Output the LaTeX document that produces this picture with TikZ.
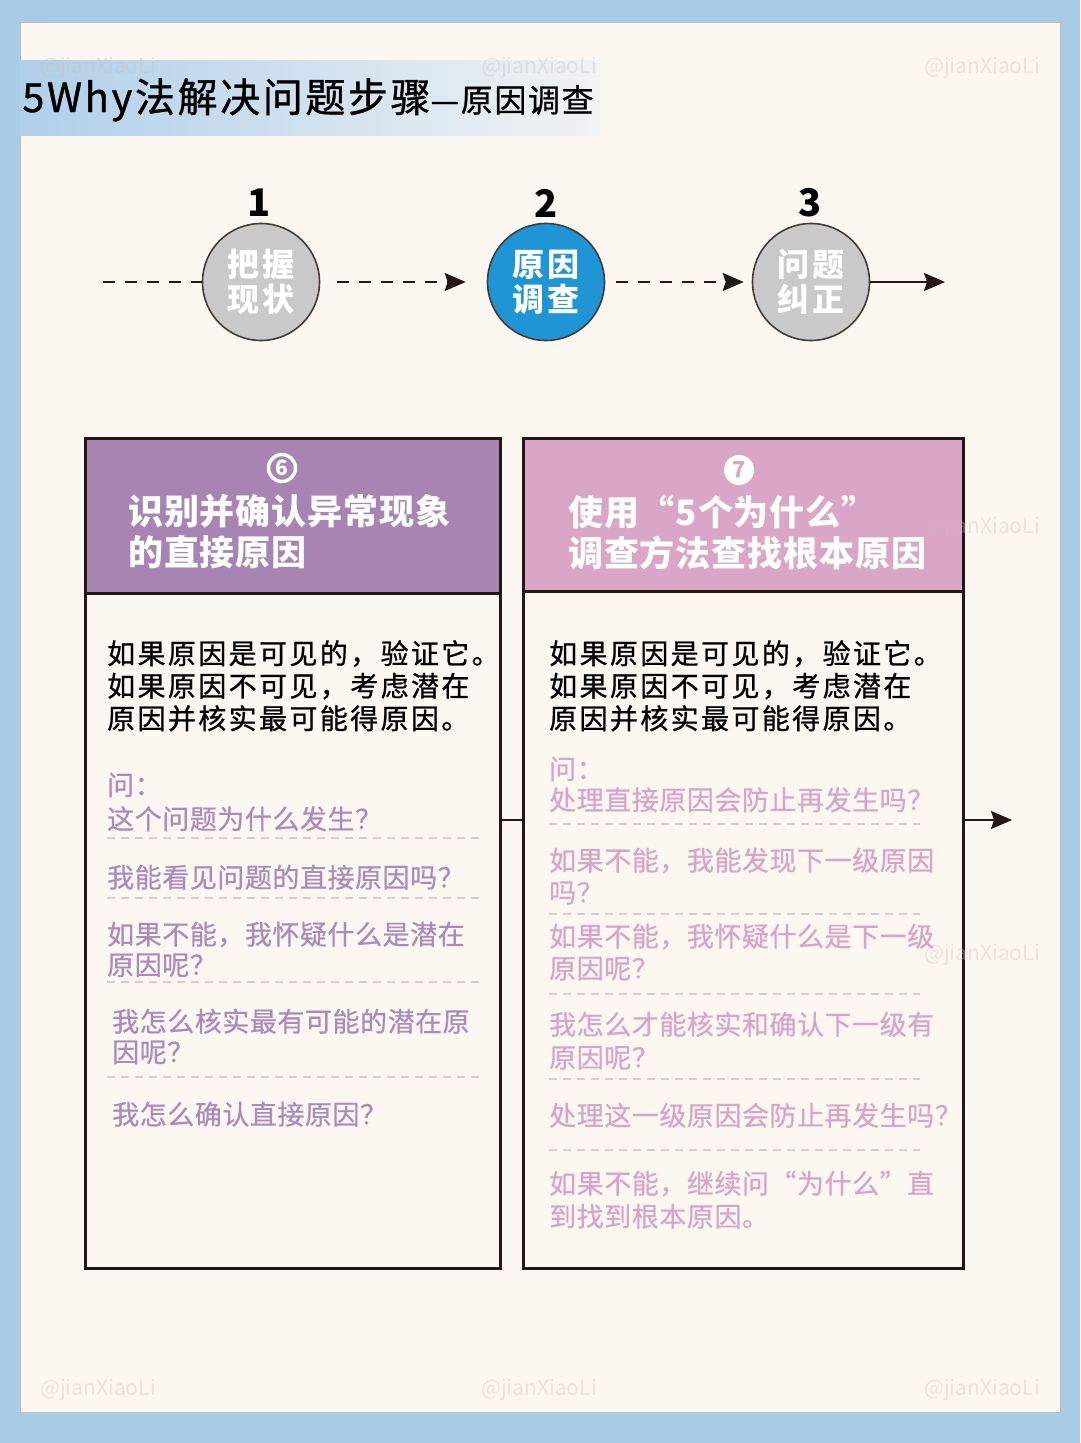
\documentclass[tikz,border=0pt]{standalone}
\usepackage{fontspec}
\setmainfont{Noto Sans CJK SC}
\usetikzlibrary{arrows.meta}
\definecolor{bgblue}{HTML}{A8CBE6}
\definecolor{cream}{HTML}{FDF7F1}
\definecolor{creamedge}{HTML}{BDBDBD}
\definecolor{titleL}{HTML}{B0CFE9}
\definecolor{titleR}{HTML}{F1F3F4}
\definecolor{purplehead}{HTML}{A884B3}
\definecolor{pinkhead}{HTML}{D9A6C6}
\definecolor{purpletext}{HTML}{A98BBE}
\definecolor{pinktext}{HTML}{D8A5C8}
\definecolor{stepblue}{HTML}{1F95D5}
\definecolor{stepgray}{HTML}{C9C9C9}
\definecolor{inkdark}{HTML}{231815}
\definecolor{sepgray}{HTML}{D6CECC}
\definecolor{wmark}{HTML}{C8BEB8}
\begin{document}
\begin{tikzpicture}[x=1pt,y=-1pt,
  stepcirc/.style={circle, draw=inkdark!85, line width=1.6pt, minimum size=117pt, inner sep=0pt,
    text=white, align=center, font=\fontsize{32}{35}\selectfont\bfseries\addfontfeature{LetterSpace=8}},
  stepnum/.style={inner sep=0pt, font=\fontsize{38}{40}\selectfont\bfseries},
  tline/.style={line width=2.2pt, draw=inkdark, dash pattern=on 12pt off 10pt},
  solidline/.style={line width=2.2pt, draw=inkdark},
  tiptri/.tip={Stealth[length=21pt,width=18pt,inset=3pt]},
  panelbox/.style={draw=inkdark, line width=2.5pt, anchor=north west, inner sep=0pt},
  headtext/.style={anchor=north west, inner sep=0pt, align=left, text=white,
    font=\fontsize{35}{41}\selectfont\bfseries\addfontfeature{LetterSpace=2.5}},
  bodytext/.style={anchor=north west, inner sep=0pt, align=left, text=black,
    font=\fontsize{28}{32.5}\selectfont\addfontfeature{LetterSpace=8.5,FakeBold=0.8}},
  qfont/.style={font=\fontsize{27}{#1}\selectfont\addfontfeature{LetterSpace=2,FakeBold=0.6}},
  qtext/.style={anchor=north west, inner sep=0pt, align=left, qfont=32},
  sepline/.style={draw=sepgray, line width=1.2pt, dash pattern=on 8pt off 6pt},
  wm/.style={inner sep=0pt, text=wmark, opacity=0.35, font=\fontsize{21}{22}\selectfont}
]
\useasboundingbox (0,0) rectangle (1080,1443);
% background
\fill[bgblue] (0,0) rectangle (1080,1443);
\filldraw[fill=cream, draw=creamedge, line width=1pt] (20,22) rectangle (1060,1412);
% title band
\shade[left color=titleL, right color=titleR] (20,60) rectangle (600,135);
% title
\node[anchor=base west, inner sep=0pt] (title) at (22,112)
  {\fontsize{40}{44}\selectfont\addfontfeature{LetterSpace=6.5,FakeBold=1}5Why法解决问题步骤\fontsize{32}{36}\selectfont\addfontfeature{LetterSpace=5,FakeBold=0.8}—原因调查};

% timeline
\node[stepcirc, fill=stepgray] (c1) at (261,282) {把握\\现状};
\node[stepcirc, fill=stepblue] (c2) at (546,282) {原因\\调查};
\node[stepcirc, fill=stepgray] (c3) at (811,282) {问题\\纠正};
\node[stepnum] (n1) at (259,203) {1};
\node[stepnum] (n2) at (546,203) {2};
\node[stepnum] (n3) at (810,203) {3};
\coordinate (tl0) at (103,282);
\coordinate (tl1) at (945,282);
\draw[tline] (tl0) -- (c1.west);
\draw[tline, -{tiptri}, shorten <=17pt, shorten >=21pt] (c1.east) -- (c2.west);
\draw[tline, -{tiptri}, shorten <=11pt, shorten >=8pt] (c2.east) -- (c3.west);
\draw[solidline, -{tiptri}] (c3.east) -- (tl1);

% panels
\node[panelbox, fill=purplehead, minimum width=415pt, minimum height=155pt] (lh) at (84,437) {};
\node[panelbox, fill=cream, minimum width=415pt, minimum height=675pt] (lb) at (84,592) {};
\node[panelbox, fill=pinkhead, minimum width=440pt, minimum height=153pt] (rh) at (522,437) {};
\node[panelbox, fill=cream, minimum width=440pt, minimum height=677pt] (rb) at (522,590) {};

\coordinate (jy) at (0,820);
\coordinate (outR) at (1012,820);
\draw[solidline] (lb.east |- jy) -- (rb.west |- jy);
\draw[solidline, -{tiptri}] (rb.east |- jy) -- (outR);

% header numbers
\node[circle, draw=white, line width=3.5pt, minimum size=27pt, inner sep=0pt, text=white,
  font=\fontsize{21}{22}\selectfont\bfseries] (k6) at (282,468) {6};
\node[circle, fill=white, minimum size=30pt, inner sep=0pt, text=pinkhead,
  font=\fontsize{22}{22}\selectfont\bfseries] (k7) at (739,470) {7};

% header texts
\node[headtext] (lht) at (128,494.5) {识别并确认异常现象\\的直接原因};
\node[headtext] (rht) at (568,494.5) {使用“5个为什么”\\调查方法查找根本原因};

% body texts
\node[bodytext] (lbt) at (107,640) {如果原因是可见的，验证它。\\如果原因不可见，考虑潜在\\原因并核实最可能得原因。};
\node[bodytext] (rbt) at (549,640) {如果原因是可见的，验证它。\\如果原因不可见，考虑潜在\\原因并核实最可能得原因。};

% left questions
\node[qtext, text=purpletext, qfont=34] (lq1) at (107,772.5) {问：\\这个问题为什么发生？};
\draw[sepline] (107,838) -- (482,838);
\node[qtext, text=purpletext] (lq2) at (107,864.5) {我能看见问题的直接原因吗？};
\draw[sepline] (107,898) -- (482,898);
\node[qtext, text=purpletext, qfont=30.5] (lq3) at (107,921.5) {如果不能，我怀疑什么是潜在\\原因呢？};
\draw[sepline] (107,982) -- (482,982);
\node[qtext, text=purpletext, qfont=30.5] (lq4) at (112,1008.5) {我怎么核实最有可能的潜在原\\因呢？};
\draw[sepline] (107,1077) -- (482,1077);
\node[qtext, text=purpletext] (lq5) at (112,1101.5) {我怎么确认直接原因？};

% right questions
\node[qtext, text=pinktext, qfont=31] (rq1) at (549,756.5) {问：\\处理直接原因会防止再发生吗？};
\draw[sepline] (549,824) -- (920,824);
\node[qtext, text=pinktext] (rq2) at (549,847.5) {如果不能，我能发现下一级原因\\吗？};
\draw[sepline] (549,914) -- (920,914);
\node[qtext, text=pinktext] (rq3) at (549,923.5) {如果不能，我怀疑什么是下一级\\原因呢？};
\draw[sepline] (549,994) -- (920,994);
\node[qtext, text=pinktext, qfont=33] (rq4) at (549,1011.5) {我怎么才能核实和确认下一级有\\原因呢？};
\draw[sepline] (549,1079) -- (920,1079);
\node[qtext, text=pinktext] (rq5) at (549,1102.5) {处理这一级原因会防止再发生吗？};
\draw[sepline] (549,1150) -- (920,1150);
\node[qtext, text=pinktext, qfont=33] (rq6) at (549,1170.5) {如果不能，继续问“为什么”直\\到找到根本原因。};

% watermarks (faint, on top)
\foreach \wx/\wy [count=\i] in {98/68,539/68,982/68,982/528,982/955,98/1390,539/1390,982/1390}
  \node[wm] (wm\i) at (\wx,\wy) {@jianXiaoLi};
\end{tikzpicture}
\end{document}
